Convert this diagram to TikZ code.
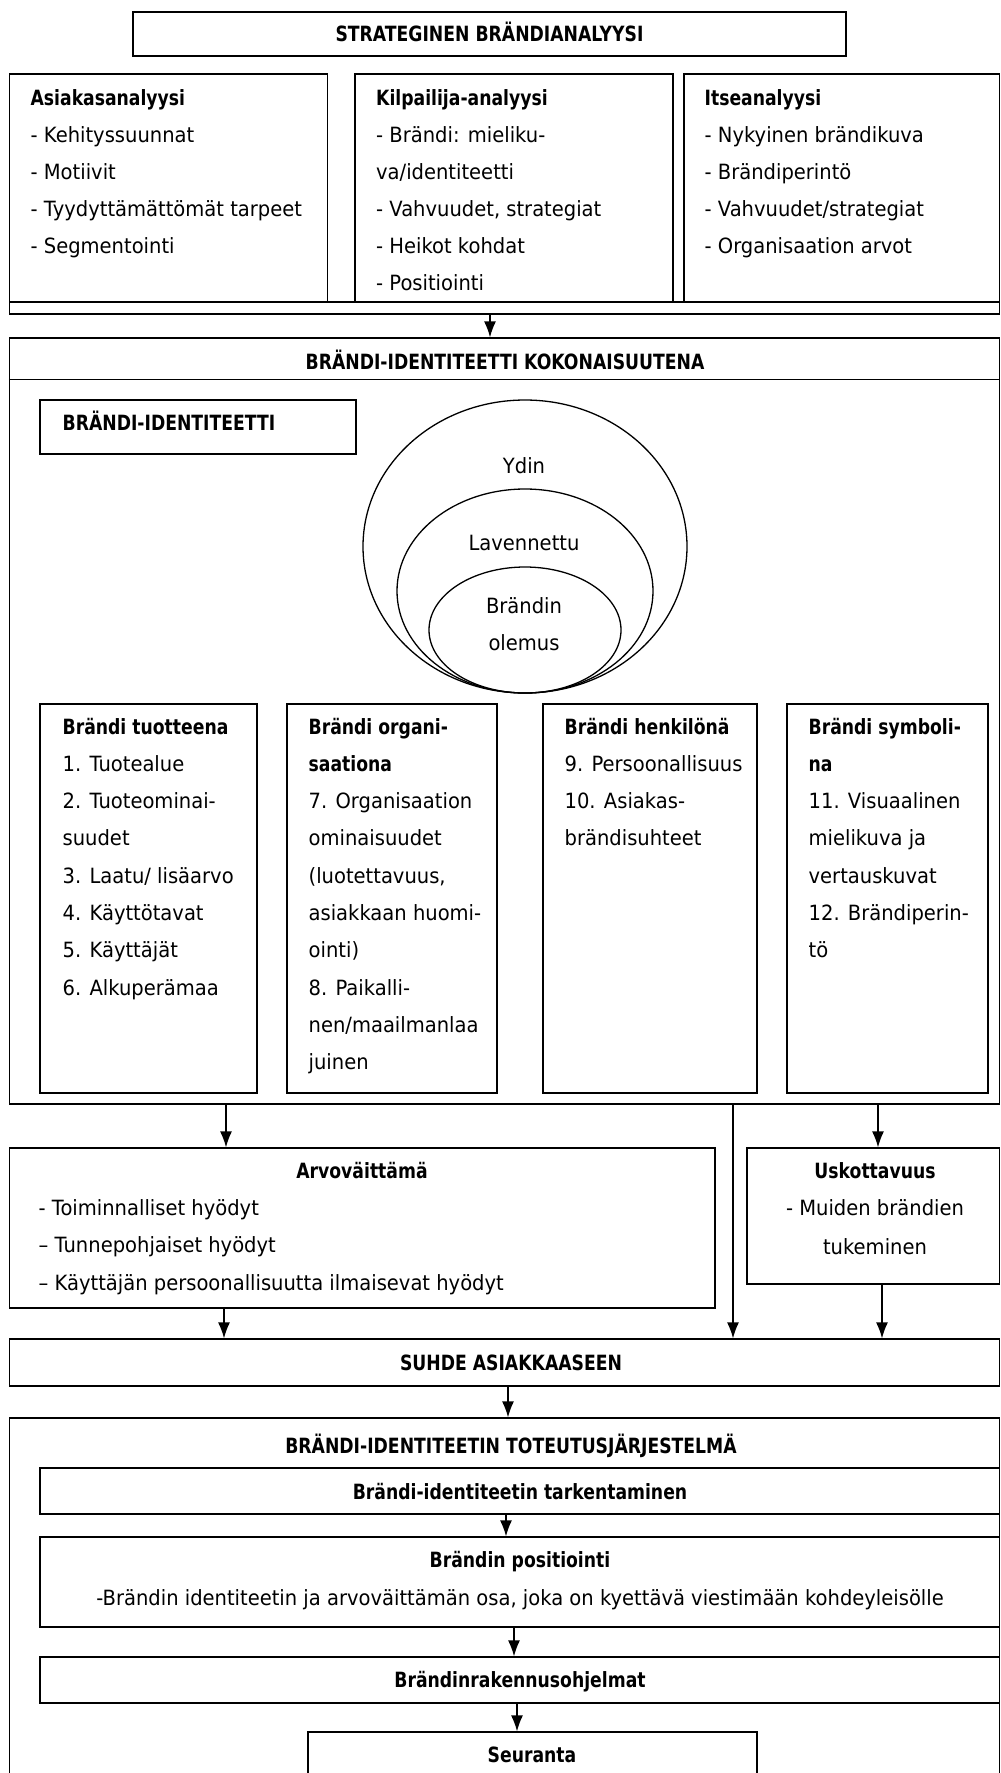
\documentclass[tikz,border=0pt]{standalone}
\usepackage{fontspec}
\setmainfont{DejaVu Sans}[FakeStretch=0.93,BoldFeatures={FakeStretch=0.82}]
\usetikzlibrary{arrows.meta,fit}
\begin{document}
\begin{tikzpicture}[x=1pt,y=-1pt,line width=1.3pt,
  box/.style={draw,rectangle,inner sep=0pt},
  txt/.style={inner sep=0pt,anchor=base west,font=\fontsize{21}{25}\selectfont},
  ttl/.style={txt,font=\fontsize{21}{25}\selectfont\bfseries},
  ctxt/.style={txt,anchor=base},
  cttl/.style={ttl,anchor=base},
  arr/.style={-{Latex[length=16pt,width=12pt]},line width=1.3pt}]
\useasboundingbox (0,0) rectangle (1001,1773);
\fill[white] (0,0) rectangle (1001,1773);

% --- strategic analysis ---
\node[box,fit={(133,12) (846,56)}] (top) {};
\node[cttl] (topt) at (489.5,41) {STRATEGINEN BRÄNDIANALYYSI};

\node[box,fit={(9.6,74) (327.6,302)}] (asia) {};
\node[box,fit={(355,74) (673,302)}] (kilp) {};
\node[box,fit={(684,74) (999.5,302)}] (itse) {};
\node[box,fit={(9.6,302) (999.5,314)}] (strip) {};

\node[ttl] (asiat) at (30,105) {Asiakasanalyysi};
\foreach \t [count=\i] in {- Kehityssuunnat, - Motiivit, - Tyydyttämättömät tarpeet, - Segmentointi}
  \node[txt] (asia-\i) at (30,105+37*\i) {\t};

\node[ttl] (kilpt) at (375.5,105) {Kilpailija-analyysi};
\foreach \t [count=\i] in {- Brändi: mieliku-, va/identiteetti, {- Vahvuudet, strategiat}, - Heikot kohdat, - Positiointi}
  \node[txt] (kilp-\i) at (375.5,105+37*\i) {\t};

\node[ttl] (itset) at (704,105) {Itseanalyysi};
\foreach \t [count=\i] in {- Nykyinen brändikuva, - Brändiperintö, - Vahvuudet/strategiat, - Organisaation arvot}
  \node[txt] (itse-\i) at (704,105+37*\i) {\t};

% --- brand identity as a whole ---
\node[box,fit={(9.6,338) (999.5,1104)}] (big) {};
\draw ([yshift=-42pt]big.north west) -- ([yshift=-42pt]big.north east);
\node[cttl] (bigt) at (505,369) {BRÄNDI-IDENTITEETTI KOKONAISUUTENA};

\node[box,fit={(40,400) (356,454)}] (bid) {};
\node[ttl] (bidt) at (62,430) {BRÄNDI-IDENTITEETTI};

\draw (525,546.5) ellipse [x radius=162pt, y radius=146.5pt];
\draw (525,591) ellipse [x radius=128pt, y radius=102pt];
\draw (525,630) ellipse [x radius=96pt, y radius=63pt];
\node[ctxt] (ydin) at (524,473) {Ydin};
\node[ctxt] (lav) at (524,550) {Lavennettu};
\node[ctxt] (ol1) at (524,613) {Brändin};
\node[ctxt] (ol2) at (524,650) {olemus};

\node[box,fit={(40,704) (257,1093)}] (b1) {};
\node[box,fit={(287,704) (497,1093)}] (b2) {};
\node[box,fit={(543,704) (757,1093)}] (b3) {};
\node[box,fit={(787,704) (988,1093)}] (b4) {};

\node[ttl] (b1t) at (62,734) {Brändi tuotteena};
\foreach \t [count=\i] in {1. Tuotealue, 2. Tuoteominai-, suudet, 3. Laatu/ lisäarvo, 4. Käyttötavat, 5. Käyttäjät, 6. Alkuperämaa}
  \node[txt] (b1-\i) at (62,734+37.3*\i) {\t};

\node[ttl] (b2t) at (308,734) {Brändi organi-};
\node[ttl] (b2u) at (308,771.3) {saationa};
\foreach \t [count=\i] in {7. Organisaation, ominaisuudet, {(luotettavuus,}, asiakkaan huomi-, ointi), 8. Paikalli-, nen/maailmanlaa, juinen}
  \node[txt] (b2-\i) at (308,771.3+37.3*\i) {\t};

\node[ttl] (b3t) at (564,734) {Brändi henkilönä};
\foreach \t [count=\i] in {9. Persoonallisuus, 10. Asiakas-, brändisuhteet}
  \node[txt] (b3-\i) at (564,734+37.3*\i) {\t};

\node[ttl] (b4t) at (808,734) {Brändi symboli-};
\node[ttl] (b4u) at (808,771.3) {na};
\foreach \t [count=\i] in {11. Visuaalinen, mielikuva ja, vertauskuvat, 12. Brändiperin-, tö}
  \node[txt] (b4-\i) at (808,771.3+37.3*\i) {\t};

% --- value proposition and credibility ---
\node[box,fit={(9.6,1148) (715,1308)}] (arvo) {};
\node[cttl] (arvot) at (362,1178) {Arvoväittämä};
\node[txt] (arvo-1) at (38,1215) {- Toiminnalliset hyödyt};
\node[txt] (arvo-2) at (38,1252) {– Tunnepohjaiset hyödyt};
\node[txt] (arvo-3) at (38,1290) {– Käyttäjän persoonallisuutta ilmaisevat hyödyt};

\node[box,fit={(747,1148) (999.5,1284)}] (usko) {};
\node[cttl] (uskot) at (875,1178) {Uskottavuus};
\node[ctxt] (usko-1) at (875,1215) {- Muiden brändien};
\node[ctxt] (usko-2) at (875,1254) {tukeminen};

\node[box,fit={(9.6,1339) (999.5,1386)}] (suhde) {};
\node[cttl] (suhdet) at (511,1370) {SUHDE ASIAKKAASEEN};

% --- implementation system ---
\node[box,fit={(9.6,1418) (999.5,1800)}] (tot) {};
\node[cttl] (tott) at (511,1453) {BRÄNDI-IDENTITEETIN TOTEUTUSJÄRJESTELMÄ};

\node[box,fit={(40,1468) (999.5,1514)}] (tark) {};
\node[cttl] (tarkt) at (520,1499) {Brändi-identiteetin tarkentaminen};

\node[box,fit={(40,1537) (999.5,1627)}] (posit) {};
\node[cttl] (positt) at (520,1567) {Brändin positiointi};
\node[ctxt] (posit-1) at (520,1605) {-Brändin identiteetin ja arvoväittämän osa, joka on kyettävä viestimään kohdeyleisölle};

\node[box,fit={(40,1657) (999.5,1703)}] (rak) {};
\node[cttl] (rakt) at (520,1687) {Brändinrakennusohjelmat};

\node[box,fit={(308,1732) (757,1800)}] (seur) {};
\node[cttl] (seurt) at (532,1762) {Seuranta};

% --- connectors ---
\coordinate (x1) at (490,0);
\coordinate (x2) at (226,0);
\coordinate (x3) at (733,0);
\coordinate (x4) at (878,0);
\coordinate (x5) at (224,0);
\coordinate (x6) at (882,0);
\coordinate (x7) at (508,0);
\coordinate (x8) at (506,0);
\coordinate (x9) at (514,0);
\coordinate (x10) at (517,0);
\draw[arr] (strip.south -| x1) -- (big.north -| x1);
\draw[arr] (big.south -| x2) -- (arvo.north -| x2);
\draw[arr] (big.south -| x3) -- (suhde.north -| x3);
\draw[arr] (big.south -| x4) -- (usko.north -| x4);
\draw[arr] (arvo.south -| x5) -- (suhde.north -| x5);
\draw[arr] (usko.south -| x6) -- (suhde.north -| x6);
\draw[arr] (suhde.south -| x7) -- (tot.north -| x7);
\draw[arr] (tark.south -| x8) -- (posit.north -| x8);
\draw[arr] (posit.south -| x9) -- (rak.north -| x9);
\draw[arr] (rak.south -| x10) -- (seur.north -| x10);
\end{tikzpicture}
\end{document}
